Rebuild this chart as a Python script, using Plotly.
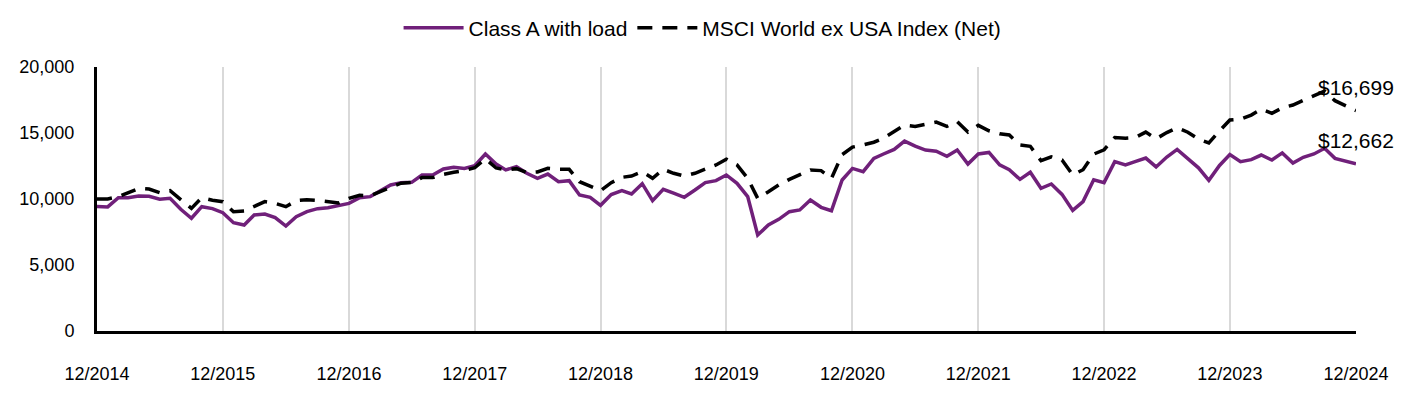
import plotly.graph_objects as go
import pandas as pd

# Monthly dates 12/2014 .. 12/2024
dates = pd.date_range("2014-12-01", "2024-12-01", freq="MS").strftime("%Y-%m-%d").tolist()

class_a = [
    9425, 9400, 10100, 10100, 10230, 10200, 9980, 10050, 9220, 8540, 9420, 9270,
    8960, 8200, 8030, 8790, 8860, 8590, 7950, 8660, 9040, 9270, 9340, 9480,
    9670, 10100, 10180, 10600, 11060, 11240, 11260, 11820, 11820, 12270, 12400, 12320,
    12520, 13410, 12650, 12200, 12450, 11950, 11570, 11890, 11310, 11390, 10300, 10130,
    9520, 10340, 10630, 10380, 11160, 9870, 10730, 10450, 10130, 10680, 11240, 11390,
    11820, 11190, 10180, 7270, 8030, 8460, 9040, 9170, 9920, 9370, 9110, 11440,
    12320, 12070, 13080, 13410, 13760, 14390, 14000, 13710, 13620, 13230, 13710, 12650,
    13410, 13530, 12580, 12220, 11490, 12030, 10810, 11140, 10350, 9140, 9800, 11460,
    11240, 12830, 12580, 12830, 13100, 12430, 13180, 13760, 13080, 12360, 11410, 12540,
    13370, 12830, 12980, 13330, 12950, 13490, 12720, 13160, 13410, 13840, 13080, 12880,
    12662,
]

msci = [
    10000, 10000, 10180, 10480, 10800, 10750, 10480, 10630, 10000, 9290, 10100, 9900,
    9800, 9040, 9100, 9470, 9800, 9670, 9420, 9870, 9950, 9900, 9800, 9700,
    10050, 10280, 10250, 10550, 10890, 11200, 11250, 11620, 11620, 11870, 12020, 12150,
    12370, 13050, 12350, 12200, 12300, 12000, 12050, 12320, 12250, 12250, 11310, 10930,
    10630, 11240, 11640, 11740, 12070, 11570, 12250, 11950, 11740, 11950, 12250, 12580,
    13020, 12580, 11570, 10050, 10550, 11060, 11490, 11820, 12200, 12150, 11570, 13360,
    13930, 14100, 14300, 14600, 15100, 15600, 15500, 15650, 15830, 15500, 15860, 15070,
    15580, 15170, 14950, 14850, 14090, 13990, 12900, 13200, 12950, 11820, 12220, 13400,
    13730, 14650, 14600, 14650, 15070, 14560, 15030, 15400, 15060, 14530, 14250, 15160,
    15980, 16040, 16360, 16800, 16490, 16900, 17120, 17480, 17840, 18170, 17450, 17100,
    16699,
]

tick_dates = [f"{y}-12-01" for y in range(2014, 2025)]
tick_labels = [f"12/{y}" for y in range(2014, 2025)]
y_ticks = [0, 5000, 10000, 15000, 20000]

PURPLE = "#70207A"
FONT = "Liberation Sans, Arial, sans-serif"

fig = go.Figure()
fig.add_trace(go.Scatter(
    x=dates, y=class_a, mode="lines", name="Class A with load",
    line=dict(color=PURPLE, width=3.5),
))
fig.add_trace(go.Scatter(
    x=dates, y=msci, mode="lines", name="MSCI World ex USA Index (Net)",
    line=dict(color="black", width=3.5, dash="15px,10px"),
))

for series in (msci, class_a):
    fig.add_annotation(
        x=dates[-1], y=series[-1], text=f"${series[-1]:,}",
        showarrow=False, xanchor="center", yanchor="middle", yshift=23,
        font=dict(size=21, color="black", family=FONT),
    )

# page body has an 8px margin, so the figure is sized/offset to compensate
fig.update_layout(
    width=1408, height=388,
    margin=dict(l=89, r=60, t=59, b=65, autoexpand=False),
    paper_bgcolor="white", plot_bgcolor="white",
    font=dict(family=FONT, size=18, color="black"),
    showlegend=True,
    legend=dict(
        orientation="h", x=0.481, xanchor="center",
        yref="container", y=0.948, yanchor="middle",
        font=dict(size=21), itemwidth=60,
    ),
    xaxis=dict(
        range=[dates[0], dates[-1]],
        tickmode="array", tickvals=tick_dates, ticktext=tick_labels,
        showgrid=True, gridcolor="#d9d9d9", gridwidth=1.5,
        showline=True, linecolor="black", linewidth=3,
        ticks="", ticklabelstandoff=24, zeroline=False,
    ),
    yaxis=dict(
        range=[0, 20000], tickmode="array", tickvals=y_ticks,
        tickformat=",", showgrid=False, zeroline=False,
        showline=True, linecolor="black", linewidth=3,
        ticks="", ticklabelstandoff=16,
    ),
)

fig.write_html("out.html")
